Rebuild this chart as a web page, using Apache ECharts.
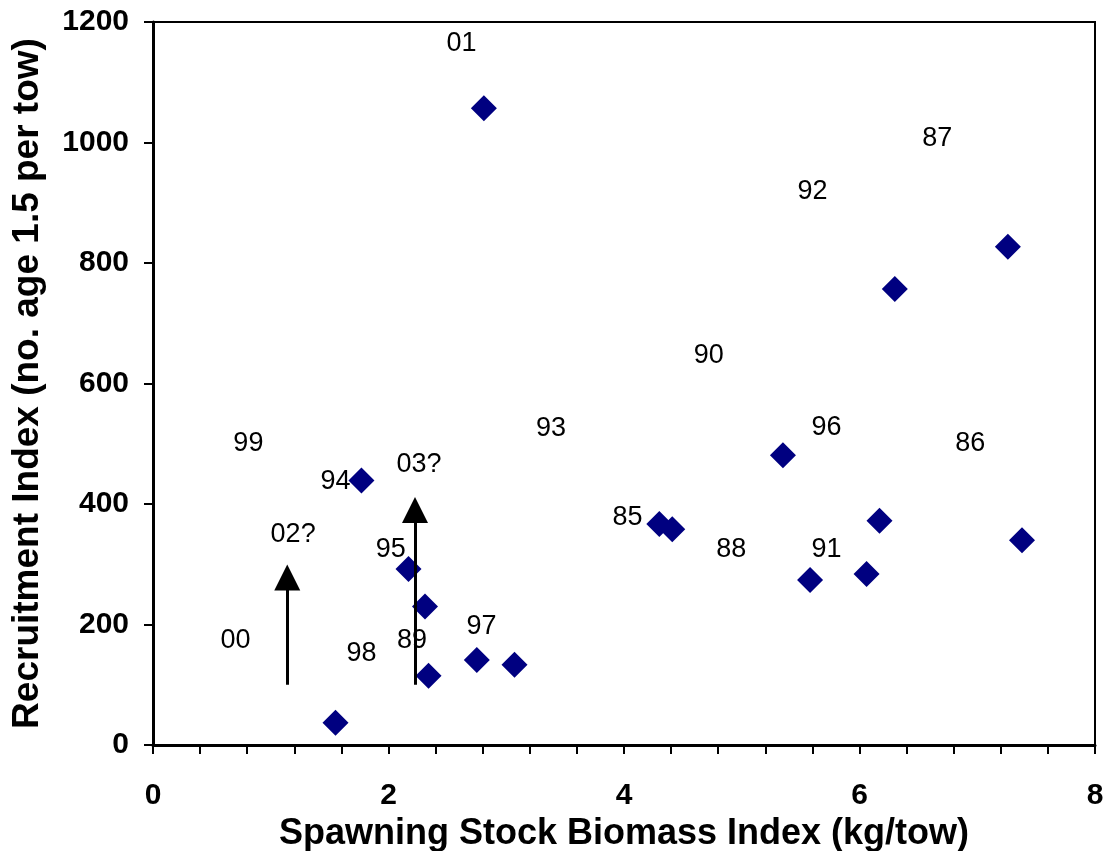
<!DOCTYPE html>
<html>
<head>
<meta charset="utf-8">
<script src="https://cdn.jsdelivr.net/npm/echarts@6/dist/echarts.min.js"></script>
<style>
  html, body { margin: 0; padding: 0; background: #fff; }
  #chart { width: 1108px; height: 851px; }
</style>
</head>
<body>
<div id="chart"></div>
<script>
// spawning stock biomass (kg/tow) and recruitment index for each point
const ssb = [1.55, 1.77, 2.17, 2.31, 2.34, 2.75, 3.07, 2.81, 4.30, 4.41, 5.35, 5.58, 6.06, 6.17, 7.38, 6.30, 7.26]
const rec = [37, 439, 292, 230, 115, 141, 133, 1057, 367, 358, 481, 274, 284, 372, 340, 757, 827]

// year labels, placed where they sit in the original
const yearText = ['01', '87', '92', '90', '93', '96', '86', '99', '94', '03?', '02?', '85', '95', '88', '91', '00', '98', '89', '97']
const yearX = [2.62, 6.66, 5.60, 4.72, 3.38, 5.72, 6.94, 0.81, 1.55, 2.26, 1.19, 4.03, 2.02, 4.91, 5.72, 0.70, 1.77, 2.20, 2.79]
const yearY = [1165, 1007, 919, 646, 526, 527, 500, 500, 438, 465, 350, 377, 324, 324, 325, 173, 151, 174, 196]

// arrows (x, start, head centre)
const arrowX = [1.14, 2.225]
const arrowFrom = [100, 100]
const arrowTo = [278, 390]

const xTicks = [0, 2, 4, 6, 8]
const yTicks = [0, 200, 400, 600, 800, 1000, 1200]

let chart = echarts.init(document.getElementById('chart'))

let pts = ssb.map((x, i) => [x, rec[i]])
let yearData = yearText.map((t, i) => ({ name: t, value: [yearX[i], yearY[i]] }))
let arrows = arrowX.map((x, i) => ({ coords: [[x, arrowFrom[i]], [x, arrowTo[i]]] }))

let option = {
  backgroundColor: '#fff',
  animation: false,
  grid: {
    left: 153,
    top: 22,
    right: 13,
    bottom: 106,
    containLabel: false,
    outerBoundsMode: 'none',
    show: true,
    borderColor: '#000',
    borderWidth: 2
  },
  xAxis: {
    type: 'value',
    min: xTicks[0],
    max: xTicks[xTicks.length - 1],
    interval: 2,
    splitLine: { show: false },
    axisLine: { lineStyle: { color: '#000', width: 3 } },
    axisTick: { inside: false, length: 9, lineStyle: { color: '#000', width: 2 } },
    minorTick: { show: true, splitNumber: 5, length: 9, lineStyle: { color: '#000', width: 2 } },
    axisLabel: {
      margin: 36,
      color: '#000',
      fontFamily: 'Liberation Sans, Arial',
      fontWeight: 'bold',
      fontSize: 30,
      formatter: v => String(v)
    },
    name: 'Spawning Stock Biomass Index (kg/tow)',
    nameLocation: 'middle',
    nameGap: 68,
    nameTextStyle: {
      color: '#000',
      fontFamily: 'Liberation Sans, Arial',
      fontWeight: 'bold',
      fontSize: 36
    }
  },
  yAxis: {
    type: 'value',
    min: yTicks[0],
    max: yTicks[yTicks.length - 1],
    interval: 200,
    splitLine: { show: false },
    axisLine: { lineStyle: { color: '#000', width: 3 } },
    axisTick: { inside: false, length: 9, lineStyle: { color: '#000', width: 2 } },
    axisLabel: {
      margin: 24,
      color: '#000',
      fontFamily: 'Liberation Sans, Arial',
      fontWeight: 'bold',
      fontSize: 30,
      formatter: v => String(v)
    },
    name: 'Recruitment Index (no. age 1.5 per tow)',
    nameLocation: 'middle',
    nameGap: 107,
    nameTextStyle: {
      color: '#000',
      fontFamily: 'Liberation Sans, Arial',
      fontWeight: 'bold',
      fontSize: 37
    }
  },
  series: [
    {
      type: 'scatter',
      data: pts,
      symbol: 'diamond',
      symbolSize: 26,
      itemStyle: { color: '#000080', opacity: 1 },
      z: 3
    },
    {
      type: 'scatter',
      data: yearData,
      symbolSize: 0,
      silent: true,
      itemStyle: { opacity: 1 },
      label: {
        show: true,
        position: 'inside',
        formatter: p => p.name,
        color: '#000',
        fontFamily: 'Liberation Sans, Arial',
        fontSize: 27
      },
      z: 4
    },
    {
      type: 'lines',
      coordinateSystem: 'cartesian2d',
      data: arrows,
      symbol: ['none', 'triangle'],
      symbolSize: [26, 26],
      lineStyle: { color: '#000', width: 3, opacity: 1 },
      z: 5
    }
  ]
}

chart.setOption(option)
</script>
</body>
</html>
